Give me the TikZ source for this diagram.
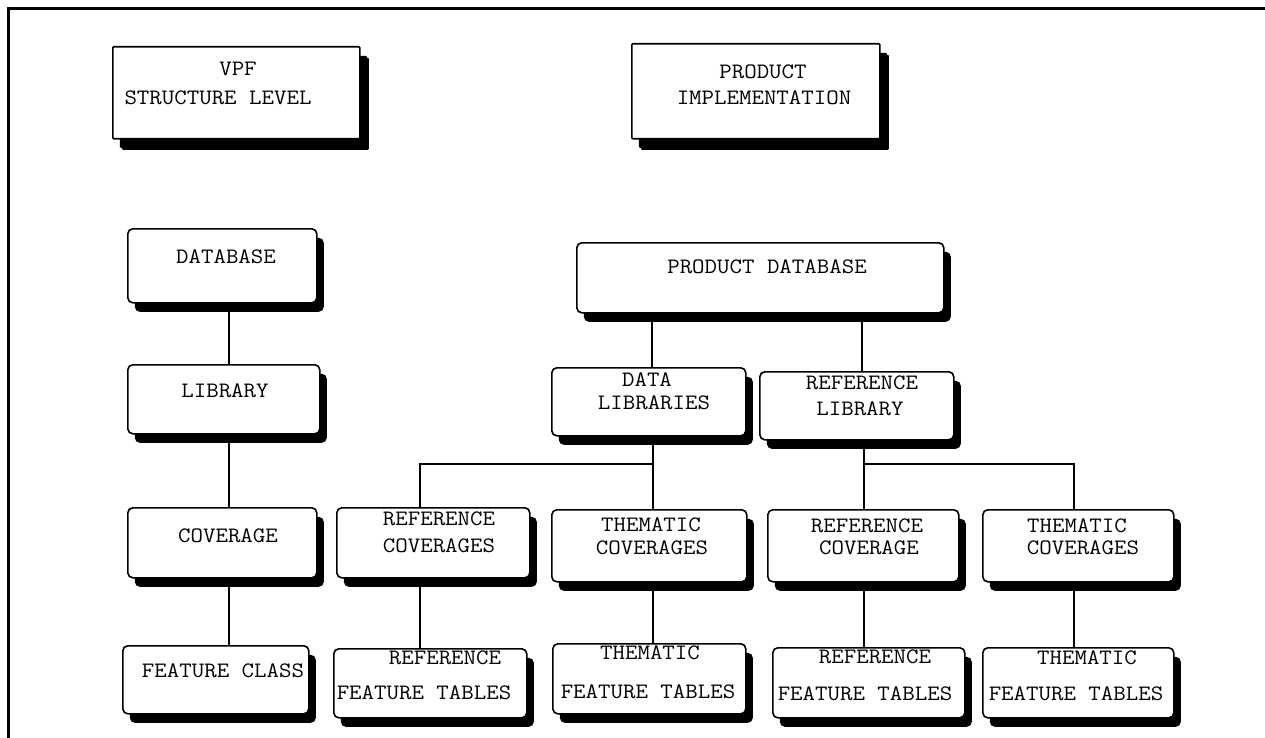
\documentclass[tikz,border=0pt]{standalone}
\usepackage{fontspec}
\usepackage{graphicx}
\usetikzlibrary{shadows}
\newcommand{\bt}[1]{\scalebox{1.1}[1]{#1}}
\begin{document}
\begin{tikzpicture}[x=1pt,y=-1pt]
\tikzset{
  box/.style={draw, line width=1.6pt, fill=white, rounded corners=5pt, anchor=north west, inner sep=0pt,
    drop shadow={shadow xshift=7pt, shadow yshift=-9pt, fill=black, opacity=1}},
  headbox/.style={box, rounded corners=1pt,
    drop shadow={shadow xshift=9pt, shadow yshift=-11pt, fill=black, opacity=1}},
  lbl/.style={font=\ttfamily\fontsize{22}{26}\selectfont, inner sep=0pt},
  conn/.style={line width=1.6pt},
}
\useasboundingbox (0,0) rectangle (1265,738);
\fill[white] (0,0) rectangle (1265,738);
% frame
\draw[line width=3pt] (8,738) -- (8,9) -- (1265,9);

% header boxes
\node[headbox, minimum width=247pt, minimum height=92pt] (vpf) at (112,46) {};
\node[headbox, minimum width=248pt, minimum height=95pt] (pim) at (631,43) {};

% left column
\node[box, minimum width=189pt, minimum height=74pt] (db) at (127,228) {};
\node[box, minimum width=192pt, minimum height=69pt] (lib) at (127,364) {};
\node[box, minimum width=189pt, minimum height=70pt] (cov) at (127,507) {};
\node[box, minimum width=186pt, minimum height=68pt] (fc) at (122,645) {};

% product tree
\node[box, minimum width=367pt, minimum height=70pt] (pdb) at (576,242) {};
\node[box, minimum width=194pt, minimum height=68pt] (dlib) at (551,367) {};
\node[box, minimum width=194pt, minimum height=68pt] (rlib) at (759,371) {};
\node[box, minimum width=193pt, minimum height=70pt] (rcovs) at (336,507) {};
\node[box, minimum width=195pt, minimum height=72pt] (tcovs) at (551,509) {};
\node[box, minimum width=191pt, minimum height=72pt] (rcov) at (767,509) {};
\node[box, minimum width=191pt, minimum height=72pt] (tcovs2) at (982,509) {};
\node[box, minimum width=193pt, minimum height=69pt] (rft) at (333,648) {};
\node[box, minimum width=193pt, minimum height=70pt] (tft) at (552,643) {};
\node[box, minimum width=192pt, minimum height=70pt] (rft2) at (772,647) {};
\node[box, minimum width=191pt, minimum height=70pt] (tft2) at (982,647) {};

% connectors
\draw[conn] ([xshift=6.5pt]db.south) -- ([xshift=6.5pt]db.south |- lib.north);
\draw[conn] ([xshift=5pt]lib.south) -- ([xshift=5pt]lib.south |- cov.north);
\draw[conn] ([xshift=6.5pt]cov.south) -- ([xshift=6.5pt]cov.south |- fc.north);

\draw[conn] ([xshift=76pt]pdb.south west) -- ([xshift=76pt]pdb.south west |- dlib.north);
\draw[conn] ([xshift=286pt]pdb.south west) -- ([xshift=286pt]pdb.south west |- rlib.north);

\coordinate (j1) at (652,464);
\coordinate (j2) at (863,464);
\draw[conn] ([xshift=4pt]dlib.south) -- ([xshift=4pt]dlib.south |- tcovs.north);
\draw[conn] (j1) -| ([xshift=-13.5pt]rcovs.north);
\draw[conn] ([xshift=7pt]rlib.south) -- ([xshift=7pt]rlib.south |- rcov.north);
\draw[conn] (j2) -| ([xshift=-4.5pt]tcovs2.north);

\draw[conn] ([xshift=-13.5pt]rcovs.south) -- ([xshift=-13.5pt]rcovs.south |- rft.north);
\draw[conn] ([xshift=3.5pt]tcovs.south) -- ([xshift=3.5pt]tcovs.south |- tft.north);
\draw[conn] ([xshift=0.5pt]rcov.south) -- ([xshift=0.5pt]rcov.south |- rft2.north);
\draw[conn] ([xshift=-4.5pt]tcovs2.south) -- ([xshift=-4.5pt]tcovs2.south |- tft2.north);

% labels
\node[lbl] (t1) at (238,69) {\bt{VPF}};
\node[lbl] (t2) at (218,98) {\bt{STRUCTURE LEVEL}};
\node[lbl] (t3) at (763,72) {\bt{PRODUCT}};
\node[lbl] (t4) at (764,98) {\bt{IMPLEMENTATION}};
\node[lbl] (t5) at (226,257) {\bt{DATABASE}};
\node[lbl] (t6) at (225,391) {\bt{LIBRARY}};
\node[lbl] (t7) at (228,536) {\bt{COVERAGE}};
\node[lbl] (t8) at (223,671) {\bt{FEATURE CLASS}};
\node[lbl] (t9) at (767,267) {\bt{PRODUCT DATABASE}};
\node[lbl] (t10) at (647,380) {\bt{DATA}};
\node[lbl] (t11) at (654,403) {\bt{LIBRARIES}};
\node[lbl] (t12) at (862,383) {\bt{REFERENCE}};
\node[lbl] (t13) at (860,409) {\bt{LIBRARY}};
\node[lbl] (t14) at (439,519) {\bt{REFERENCE}};
\node[lbl] (t15) at (439,546) {\bt{COVERAGES}};
\node[lbl] (t16) at (651,525) {\bt{THEMATIC}};
\node[lbl] (t17) at (652,548) {\bt{COVERAGES}};
\node[lbl] (t18) at (867,526) {\bt{REFERENCE}};
\node[lbl] (t19) at (869,548) {\bt{COVERAGE}};
\node[lbl] (t20) at (1077,526) {\bt{THEMATIC}};
\node[lbl] (t21) at (1083,548) {\bt{COVERAGES}};
\node[lbl] (t22) at (445,658) {\bt{REFERENCE}};
\node[lbl] (t23) at (424,693) {\bt{FEATURE TABLES}};
\node[lbl] (t24) at (650,653) {\bt{THEMATIC}};
\node[lbl] (t25) at (648,692) {\bt{FEATURE TABLES}};
\node[lbl] (t26) at (875,657) {\bt{REFERENCE}};
\node[lbl] (t27) at (865,694) {\bt{FEATURE TABLES}};
\node[lbl] (t28) at (1087,658) {\bt{THEMATIC}};
\node[lbl] (t29) at (1076,694) {\bt{FEATURE TABLES}};
\end{tikzpicture}
\end{document}
